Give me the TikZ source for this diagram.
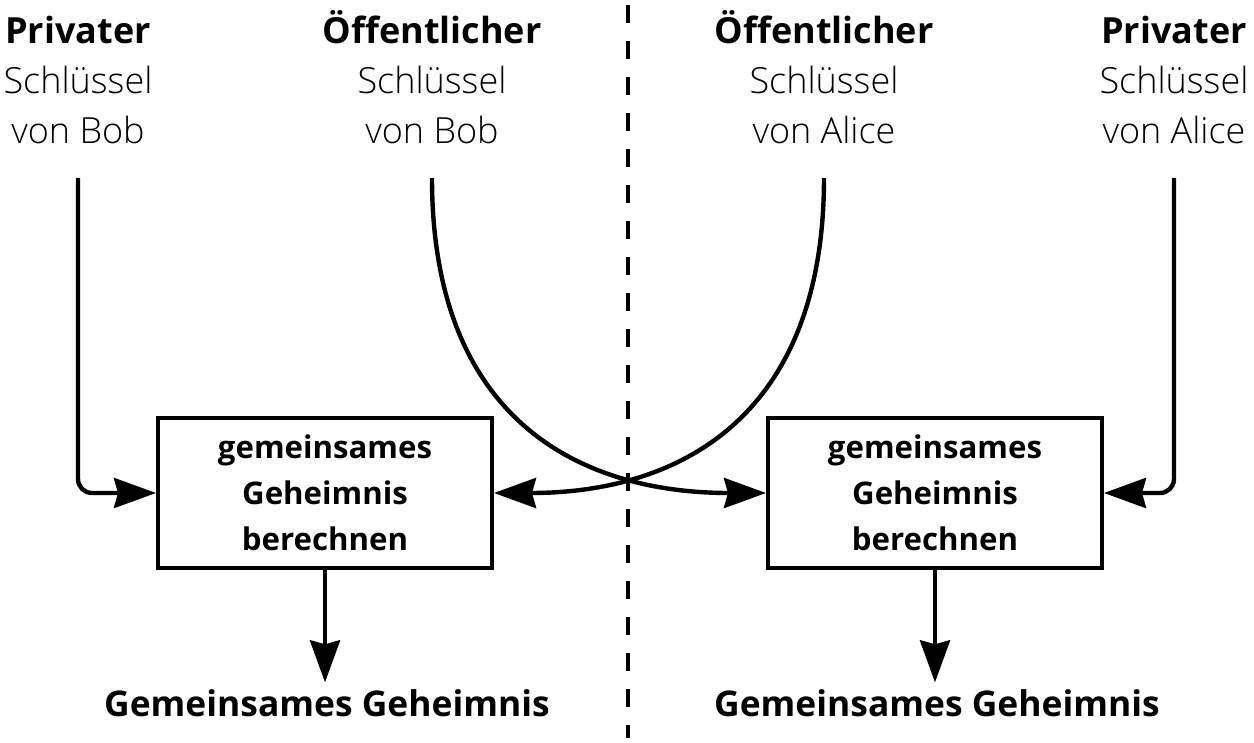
\documentclass[tikz,border=0pt]{standalone}
\usepackage{fontspec}
\setmainfont{Open Sans}[UprightFont=* Light, BoldFont=* Bold]
\usetikzlibrary{arrows.meta}
\tikzset{
  schluessel/.style={align=center,font=\fontsize{18}{25}\selectfont},
  rechnen/.style={draw,line width=2pt,minimum width=167pt,minimum height=75pt,
    align=center,font=\fontsize{15.6}{23}\selectfont\bfseries},
  pfeil/.style={line width=2.2pt,-{Stealth[length=21pt,width=15pt,inset=2pt]}},
}
\begin{document}
\begin{tikzpicture}[x=0.5pt,y=-0.5pt]
  \useasboundingbox (0,0) rectangle (1254,743);
  \coordinate(p1) at (78,178);
  \coordinate(o1) at (432,178);
  \coordinate(o2) at (824,178);
  \coordinate(p2) at (1174,178);
  \coordinate(t) at (628,5);
  \coordinate(t1) at (628,738);
  \node[schluessel,anchor=south] (bp) at (78,151) {\textbf{Privater}\\Schlüssel\\von Bob};
  \node[schluessel,anchor=south] (bo) at (432,151) {\textbf{Öffentlicher}\\Schlüssel\\von Bob};
  \node[schluessel,anchor=south] (ao) at (824,151) {\textbf{Öffentlicher}\\Schlüssel\\von Alice};
  \node[schluessel,anchor=south] (ap) at (1174,151) {\textbf{Privater}\\Schlüssel\\von Alice};
  \node[rechnen] (b1) at (325,493) {gemeinsames\\Geheimnis\\berechnen};
  \node[rechnen] (b2) at (935,493) {gemeinsames\\Geheimnis\\berechnen};
  \node[schluessel,font=\fontsize{17.7}{25}\selectfont\bfseries] (g1) at (327,703) {Gemeinsames Geheimnis};
  \node[schluessel,font=\fontsize{17.7}{25}\selectfont\bfseries] (g2) at (937,703) {Gemeinsames Geheimnis};
  \draw[line width=2pt,dash pattern=on 9pt off 9pt] (t) -- (t1);% Trennlinie Bob / Alice
  \draw[pfeil,rounded corners=7pt] (p1) |- (b1.west);% privater Schluessel von Bob
  \draw[pfeil,rounded corners=7pt] (p2) |- (b2.east);% privater Schluessel von Alice
  \draw[pfeil] (o1) .. controls (432,420) and (580,493) .. (b2.west);% Bob an Alice
  \draw[pfeil] (o2) .. controls (824,420) and (676,493) .. (b1.east);% Alice an Bob
  \draw[pfeil] (b1.south) -- (b1.south |- g1.north);
  \draw[pfeil] (b2.south) -- (b2.south |- g2.north);
\end{tikzpicture}
\end{document}
